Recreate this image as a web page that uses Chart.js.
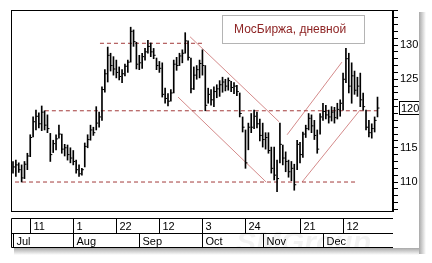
<!DOCTYPE html>
<html>
<head>
<meta charset="utf-8">
<script src="https://cdn.jsdelivr.net/npm/chart.js@4.4.1/dist/chart.umd.min.js"></script>
<style>
  html, body { margin: 0; padding: 0; background: #fff; }
  #wrap { width: 432px; height: 263px; }
</style>
</head>
<body>
<div id="wrap"><canvas id="chart" width="432" height="263"></canvas></div>
<script>
'use strict';

// Daily bars, index 0 = 1 Jul 2011 (trading days only)
const highs = [
  113.0, 113.2, 112.8, 112.5, 113.0, 114.2, 116.9, 119.5, 120.5, 120.1,
  121.1, 120.4, 119.8, 117.1, 116.1, 116.9, 118.3, 117.0, 115.5, 115.4,
  115.0, 114.6, 113.2, 112.5, 112.0, 115.7, 116.9, 118.3, 118.0, 121.0,
  120.2, 123.9, 126.4, 129.7, 128.8, 128.3, 127.8, 126.8, 126.4, 127.2,
  127.8, 132.6, 132.2, 130.4, 128.5, 128.8, 129.5, 130.7, 130.3, 129.5,
  128.1, 127.6, 127.4, 123.7, 122.9, 123.5, 127.8, 128.2, 128.8, 129.3,
  131.8, 130.6, 128.1, 126.8, 127.0, 127.8, 129.3, 127.0, 123.7, 123.5,
  123.9, 124.2, 124.8, 125.3, 125.0, 125.2, 124.7, 124.5, 124.1, 123.0,
  119.5, 117.6, 118.6, 120.0, 120.5, 120.2, 119.2, 118.6, 117.2, 117.2,
  115.1, 115.1, 113.2, 118.6, 115.4, 114.4, 113.2, 113.0, 112.6, 116.1,
  115.8, 117.3, 118.3, 120.0, 119.8, 119.0, 117.6, 120.0, 121.5, 121.2,
  120.5, 121.0, 120.9, 121.5, 122.0, 125.9, 129.5, 128.8, 127.4, 126.2,
  125.3, 125.9, 123.0, 120.5, 119.0, 118.5, 119.5, 122.4
];
const lows = [
  111.3, 110.8, 111.4, 110.0, 110.5, 111.8, 113.7, 116.6, 117.6, 117.9,
  117.5, 117.6, 117.2, 113.0, 114.3, 114.7, 116.4, 114.2, 113.8, 113.2,
  112.8, 112.5, 111.3, 110.8, 111.0, 112.2, 115.0, 116.1, 116.8, 117.6,
  118.0, 119.0, 123.1, 124.6, 126.2, 125.6, 125.2, 124.9, 124.5, 125.5,
  126.0, 127.5, 129.8, 126.5, 126.4, 126.6, 127.8, 128.8, 128.3, 128.0,
  126.4, 126.0, 122.4, 121.5, 121.1, 121.8, 123.0, 126.3, 127.0, 127.4,
  128.8, 127.8, 123.0, 123.5, 125.0, 125.2, 125.6, 120.4, 121.5, 121.2,
  121.0, 122.3, 122.5, 123.1, 123.3, 123.4, 123.2, 122.9, 122.6, 119.5,
  117.3, 112.0, 114.7, 117.2, 117.8, 117.9, 116.0, 115.1, 114.8, 114.2,
  111.3, 110.3, 108.6, 112.8, 112.5, 111.5, 110.7, 110.2, 108.8, 111.8,
  112.8, 113.6, 116.5, 117.6, 117.2, 116.2, 114.2, 117.0, 119.0, 119.2,
  118.6, 118.9, 118.6, 119.2, 119.6, 120.5, 124.5, 123.0, 121.5, 122.8,
  122.5, 121.0, 120.5, 117.6, 116.6, 116.4, 117.3, 119.5
];
const closes = [
  112.2, 112.5, 111.8, 110.6, 112.6, 113.8, 116.5, 118.8, 119.6, 118.5,
  120.2, 118.3, 117.8, 114.0, 115.6, 116.3, 117.0, 114.8, 115.0, 114.0,
  113.5, 113.0, 111.8, 111.2, 111.8, 115.2, 116.2, 117.6, 117.2, 118.6,
  119.5, 123.5, 125.8, 128.5, 127.0, 126.5, 126.0, 125.4, 125.8, 126.9,
  127.5, 132.0, 130.5, 127.2, 127.4, 128.3, 129.0, 129.8, 129.0, 128.5,
  127.0, 126.6, 122.8, 122.2, 121.8, 123.0, 127.2, 127.0, 128.4, 128.8,
  130.6, 128.2, 123.6, 125.6, 126.4, 127.3, 127.0, 121.2, 122.8, 122.0,
  123.2, 123.6, 124.2, 124.6, 124.0, 124.8, 123.8, 124.0, 123.2, 120.0,
  118.0, 112.8, 118.0, 118.0, 119.6, 118.5, 116.8, 116.2, 116.5, 114.6,
  112.0, 111.0, 110.5, 115.5, 113.5, 113.0, 111.5, 112.0, 109.6, 115.5,
  114.0, 117.0, 117.8, 119.3, 118.2, 116.8, 114.8, 119.5, 120.3, 119.8,
  119.5, 120.2, 119.4, 120.6, 121.5, 125.0, 128.0, 124.0, 125.5, 123.4,
  124.0, 122.0, 121.0, 118.0, 117.2, 117.8, 119.0, 120.8
];

// bottom axis: week row and month row (bar indices)
const weekTicks = [6, 21, 36, 51, 66, 81, 100, 115];
const weekLabels = ['11', '1', '22', '12', '3', '24', '21', '12'];
const monthTicks = [0, 21, 44, 66, 87, 108];
const monthLabels = ['Jul', 'Aug', 'Sep', 'Oct', 'Nov', 'Dec'];

// right axis labels
const yLabels = [110, 115, 125, 130];

// horizontal support / resistance levels (dashed)
const levelValues = [130.25, 120.4, 110.0];
const levelStart = [30.3, 11.1, 0.7];
const levelEnd = [66.2, 127.9, 119.5];

// trend channel lines
const chanX1 = [61.7, 57.5, 95.5, 100.7];
const chanY1 = [131.2, 122.4, 116.9, 110.0];
const chanX2 = [92.7, 88.2, 114.6, 120.9];
const chanY2 = [118.8, 110.0, 127.5, 120.5];

const titleText = 'МосБиржа, дневной';
const watermark = 'SMGroup';

const FONT = "'Liberation Sans', Arial, sans-serif";
const LEVEL_COLOR = '#a33a3a';
const CHANNEL_COLOR = '#d48a8a';

const barData = highs.map((h, i) => ({ x: i, y: [lows[i], h] }));
const closeData = closes.map((c, i) => ({ x: i, y: c }));

const datasets = [];

levelValues.forEach((v, i) => {
  datasets.push({
    type: 'line',
    data: [{ x: levelStart[i], y: v }, { x: levelEnd[i], y: v }],
    borderColor: LEVEL_COLOR,
    borderWidth: 1,
    borderDash: [4, 3],
    pointRadius: 0,
    order: 3,
  });
});

chanX1.forEach((x, i) => {
  datasets.push({
    type: 'line',
    data: [{ x, y: chanY1[i] }, { x: chanX2[i], y: chanY2[i] }],
    borderColor: CHANNEL_COLOR,
    borderWidth: 1,
    pointRadius: 0,
    order: 3,
  });
});

datasets.push({
  type: 'bar',
  data: barData,
  backgroundColor: '#000',
  borderWidth: 0,
  barThickness: 1,
  grouped: false,
  order: 1,
});

datasets.push({
  type: 'line',
  data: closeData,
  showLine: false,
  pointStyle: 'dash',
  pointRadius: 2,
  borderColor: '#000',
  borderWidth: 1,
  order: 0,
});

// frame, title box, date axis, last price marker, shadow
const decorPlugin = {
  id: 'decor',
  afterDraw(chart) {
    const ctx = chart.ctx;
    const { left, right, top, bottom } = chart.chartArea;
    const xs = chart.scales.x;
    const ys = chart.scales.y;
    const px = v => Math.round(xs.getPixelForValue(v)) + 0.5;

    ctx.save();
    ctx.strokeStyle = '#000';
    ctx.lineWidth = 1;
    ctx.strokeRect(left + 0.5, top + 0.5, right - left - 1, bottom - top);

    // title box
    ctx.strokeStyle = '#b4b4b4';
    ctx.strokeRect(222.5, 15.5, 142, 28);
    ctx.fillStyle = '#8e2424';
    ctx.font = '12px ' + FONT;
    ctx.textBaseline = 'alphabetic';
    ctx.fillText(titleText, 234, 33);

    // date axis box
    const r1 = bottom + 7.5, r2 = bottom + 22.5, r3 = bottom + 36.5;
    ctx.strokeStyle = '#000';
    ctx.beginPath();
    [r1, r2, r3].forEach(y => { ctx.moveTo(left + 0.5, y); ctx.lineTo(right, y); });
    ctx.moveTo(left + 0.5, r1); ctx.lineTo(left + 0.5, r3);
    weekTicks.forEach(t => { ctx.moveTo(px(t), r1); ctx.lineTo(px(t), r2); });
    monthTicks.forEach(t => { ctx.moveTo(px(t), r2); ctx.lineTo(px(t), r3); });
    ctx.stroke();

    ctx.fillStyle = '#000';
    ctx.font = '11px ' + FONT;
    weekTicks.forEach((t, i) => ctx.fillText(weekLabels[i], px(t) + 3, r2 - 3.5));
    monthTicks.forEach((t, i) => ctx.fillText(monthLabels[i], px(t) + 3, r3 - 3));

    // last price marker on the right axis
    const last = closes[closes.length - 1];
    const ly = Math.round(ys.getPixelForValue(last));
    ctx.strokeRect(399.5, ly - 6.5, 30, 13);
    ctx.textBaseline = 'middle';
    ctx.fillText(last.toFixed(2), 401, ly + 0.5);

    // faint watermark
    ctx.fillStyle = 'rgba(0,0,0,0.05)';
    ctx.font = 'italic bold 30px ' + FONT;
    ctx.textBaseline = 'alphabetic';
    ctx.fillText(watermark, 236, 252);

    // panel edge with drop shadow
    ctx.fillStyle = '#fff';
    ctx.fillRect(419, 0, 13, 263);
    ctx.fillRect(0, 248, 432, 15);
    let g = ctx.createLinearGradient(419, 0, 426, 0);
    g.addColorStop(0, 'rgba(110,110,110,0.6)');
    g.addColorStop(1, 'rgba(110,110,110,0)');
    ctx.fillStyle = g;
    ctx.fillRect(419, 12, 7, 242);
    g = ctx.createLinearGradient(0, 248, 0, 255);
    g.addColorStop(0, 'rgba(110,110,110,0.6)');
    g.addColorStop(1, 'rgba(110,110,110,0)');
    ctx.fillStyle = g;
    ctx.fillRect(14, 248, 405, 7);
    ctx.restore();
  },
};

new Chart(document.getElementById('chart'), {
  type: 'bar',
  data: { datasets },
  plugins: [decorPlugin],
  options: {
    responsive: false,
    animation: false,
    events: [],
    layout: { padding: { left: 11, top: 10, right: 12, bottom: 52 } },
    plugins: { legend: { display: false }, tooltip: { enabled: false } },
    scales: {
      x: {
        type: 'linear',
        min: -0.7,
        max: 132.4,
        offset: false,
        display: false,
      },
      y: {
        position: 'right',
        min: 105.77,
        max: 135.11,
        afterBuildTicks: (s) => {
          const t = [];
          for (let v = Math.ceil(s.min); v <= Math.floor(s.max); v++) t.push({ value: v });
          s.ticks = t;
        },
        afterFit: (s) => { s.width = 27; },
        ticks: {
          autoSkip: false,
          maxRotation: 0,
          padding: 2,
          color: '#000',
          font: { family: FONT, size: 11 },
          callback: (v) => (yLabels.includes(v) ? String(v) : ''),
        },
        grid: { drawOnChartArea: false, tickLength: 5, color: '#000' },
        border: { color: '#000' },
      },
    },
  },
});
</script>
</body>
</html>
